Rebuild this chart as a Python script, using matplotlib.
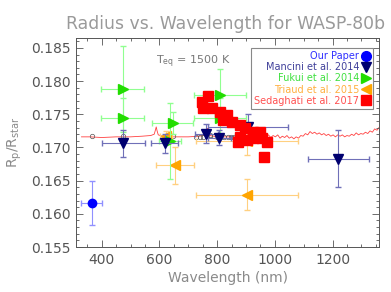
import matplotlib
matplotlib.use("Agg")
import matplotlib.pyplot as plt
from matplotlib.lines import Line2D
from matplotlib.ticker import MultipleLocator

# --- data ---
our_wave = [365]
our_wave_err = [35]
our_radius = [0.1616]
our_radius_err = [0.0033]

mancini_wave = [475, 618, 762, 808, 907, 1220]
mancini_wave_err = [74, 47, 40, 40, 140, 105]
mancini_radius = [0.1706, 0.1706, 0.1721, 0.1715, 0.1731, 0.1683]
mancini_radius_err = [0.0021, 0.0014, 0.0015, 0.0012, 0.0020, 0.0043]

fukui_wave = [473, 473, 646, 636, 810, 810]
fukui_wave_err = [74, 74, 72, 38, 90, 90]
fukui_radius = [0.1788, 0.1744, 0.1737, 0.1710, 0.1779, 0.1744]
fukui_radius_err = [0.0065, 0.0030, 0.0017, 0.0057, 0.0039, 0.0030]

triaud_wave = [654, 903, 623, 903]
triaud_wave_err = [66, 176, 20, 176]
triaud_radius = [0.1673, 0.1629, 0.1717, 0.1710]
triaud_radius_err = [0.0028, 0.0023, 0.0008, 0.0021]

sedaghati_wave = [770, 749, 752, 781, 810, 833, 822, 851, 880, 897,
                  880, 874, 903, 926, 926, 949, 955, 972, 962]
sedaghati_radius = [0.1778, 0.1769, 0.1759, 0.1759, 0.1754, 0.1749, 0.1742,
                    0.1739, 0.1734, 0.1729, 0.1716, 0.1709, 0.1711, 0.1714,
                    0.1724, 0.1724, 0.1714, 0.1709, 0.1686]
sedaghati_radius_err = [0.0006] * len(sedaghati_wave)

model_wave = [330, 360, 400, 450, 500, 540, 570, 582, 586, 589, 592, 596, 610,
              650, 700, 740, 760, 764, 767, 770, 775, 800, 850, 900, 940,
              960, 970, 978, 986, 994, 1002, 1010, 1018, 1026, 1034, 1042,
              1050, 1058, 1066, 1074, 1082, 1090, 1098, 1106, 1114, 1122,
              1130, 1138, 1146, 1154, 1162, 1170, 1178, 1186, 1194, 1202,
              1210, 1218, 1226, 1234, 1242, 1250, 1258, 1266, 1274, 1282,
              1290, 1298, 1306, 1314, 1322, 1330, 1338, 1346, 1354, 1361]
model_radius = [0.1716, 0.1716, 0.1715, 0.1716, 0.1716, 0.1717, 0.1718, 0.1720,
                0.1726, 0.1731, 0.1725, 0.1719, 0.1717, 0.1716, 0.1716, 0.1717,
                0.1719, 0.1726, 0.1729, 0.1722, 0.1718, 0.1716, 0.1716, 0.1717,
                0.1717, 0.1718, 0.1716, 0.1719, 0.1715, 0.1718, 0.1716, 0.1719,
                0.1714, 0.1717, 0.1715, 0.1718, 0.1714, 0.1716, 0.1713, 0.1716,
                0.1714, 0.1718, 0.1717, 0.1721, 0.1719, 0.1724, 0.1721, 0.1723,
                0.1720, 0.1722, 0.1719, 0.1721, 0.1718, 0.1720, 0.1717, 0.1719,
                0.1716, 0.1719, 0.1717, 0.1719, 0.1716, 0.1718, 0.1717, 0.1720,
                0.1718, 0.1722, 0.1719, 0.1721, 0.1720, 0.1723, 0.1721, 0.1725,
                0.1723, 0.1728, 0.1726, 0.1730]

binned_wave = [365, 475, 622, 648, 728, 740, 752, 764, 776, 788, 800, 812,
               824, 836, 848, 860]
binned_radius = [0.1717, 0.1717, 0.1717, 0.1717, 0.1716, 0.1716, 0.1716, 0.1718,
                 0.1719, 0.1717, 0.1716, 0.1716, 0.1716, 0.1716, 0.1716, 0.1716]

TEXT_GRAY = "#8a8a8a"
AXIS_GRAY = "#555555"

fig = plt.figure(figsize=(3.91, 2.92), dpi=100)
ax = fig.add_axes([0.1944, 0.1541, 0.7749, 0.7158])

ax.plot(model_wave, model_radius, color="#ff4040", linewidth=0.6, zorder=1)
ax.plot(binned_wave, binned_radius, linestyle="none", marker="o", markersize=3.2,
        markerfacecolor="none", markeredgecolor="#555555", markeredgewidth=0.5, zorder=2)

ax.errorbar(triaud_wave, triaud_radius, xerr=triaud_wave_err, yerr=triaud_radius_err,
            fmt="<", color="#ffa500", ecolor="#ffd080", elinewidth=0.8, capsize=2,
            markersize=7, zorder=3)
ax.errorbar(fukui_wave, fukui_radius, xerr=fukui_wave_err, yerr=fukui_radius_err,
            fmt=">", color="#22dd00", ecolor="#90ff90", elinewidth=0.8, capsize=2,
            markersize=7, zorder=4)
ax.errorbar(mancini_wave, mancini_radius, xerr=mancini_wave_err, yerr=mancini_radius_err,
            fmt="v", color="#000070", ecolor="#7070b8", elinewidth=0.8, capsize=2,
            markersize=7, zorder=5)
ax.errorbar(sedaghati_wave, sedaghati_radius, yerr=sedaghati_radius_err,
            fmt="s", color="#ff0000", ecolor="#ff8080", elinewidth=0.8, capsize=2,
            markersize=6.5, zorder=6)
ax.errorbar(our_wave, our_radius, xerr=our_wave_err, yerr=our_radius_err,
            fmt="o", color="#0000ff", ecolor="#9090ff", elinewidth=0.8, capsize=2,
            markersize=6, zorder=7)

ax.set_xlim(311, 1361)
ax.set_ylim(0.155, 0.1865)
ax.xaxis.set_major_locator(MultipleLocator(200))
ax.xaxis.set_minor_locator(MultipleLocator(50))
ax.yaxis.set_major_locator(MultipleLocator(0.005))
ax.yaxis.set_minor_locator(MultipleLocator(0.001))
ax.tick_params(which="both", direction="in", top=True, right=True,
               color=AXIS_GRAY, width=0.6)
ax.tick_params(which="major", length=5, labelsize=10, labelcolor="#555555", pad=4)
ax.tick_params(which="minor", length=2.5)
ax.yaxis.set_major_formatter(matplotlib.ticker.FormatStrFormatter("%.3f"))
for spine in ax.spines.values():
    spine.set_color(AXIS_GRAY)
    spine.set_linewidth(0.7)

ax.set_xlabel("Wavelength (nm)", fontsize=10, color=TEXT_GRAY, labelpad=3)
ax.set_ylabel(r"R$_\mathregular{p}$/R$_\mathregular{star}$", fontsize=10,
              color=TEXT_GRAY, labelpad=5)
fig.text(0.578, 0.918, "Radius vs. Wavelength for WASP-80b", ha="center", va="center",
         fontsize=12.4, color="#9a9a9a")
ax.text(0.265, 0.885, r"T$_\mathregular{eq}$ = 1500 K", transform=ax.transAxes,
        fontsize=8, color="#777777", ha="left", va="center")

handles = [
    Line2D([], [], linestyle="none", marker="o", color="#0000ff", markersize=7),
    Line2D([], [], linestyle="none", marker="v", color="#000070", markersize=7),
    Line2D([], [], linestyle="none", marker=">", color="#22dd00", markersize=7),
    Line2D([], [], linestyle="none", marker="<", color="#ffa500", markersize=7),
    Line2D([], [], linestyle="none", marker="s", color="#ff0000", markersize=7),
]
labels = ["Our Paper", "Mancini et al. 2014", "Fukui et al. 2014",
          "Triaud et al. 2015", "Sedaghati et al. 2017"]
legend = ax.legend(handles, labels, loc="upper right", bbox_to_anchor=(0.979, 0.951),
                   borderaxespad=0, markerfirst=False, fontsize=7, fancybox=False,
                   edgecolor="#888888", framealpha=1, handlelength=0.8,
                   handletextpad=0.3, labelspacing=0.12, borderpad=0.3,
                   labelcolor=["#3030ff", "#40409a", "#40e040", "#ffb040", "#ff5050"])
legend.get_frame().set_linewidth(0.8)
legend.set_zorder(10)

fig.savefig("out.png", dpi=100)
